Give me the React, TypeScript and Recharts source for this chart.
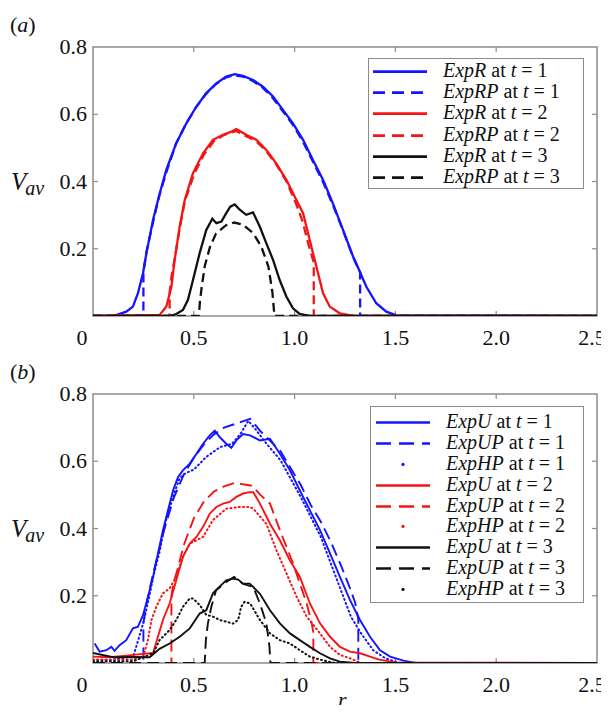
// ** React
import React from 'react';

// ** Chart library
import { LineChart, Line, XAxis, YAxis, ReferenceArea, ReferenceLine } from 'recharts';

// ---- (a) ExpR / ExpRP ----
const rR1 = [0, 0.1, 0.165, 0.198, 0.223, 0.248, 0.265, 0.298, 0.331, 0.364, 0.413, 0.463, 0.513, 0.562, 0.612, 0.661, 0.703, 0.744, 0.794, 0.843, 0.893, 0.942, 0.992, 1.042, 1.091, 1.141, 1.19, 1.24, 1.29, 1.32, 1.356, 1.405, 1.455, 1.505, 2.5];
const vR1 = [0, 0, 0.013, 0.028, 0.068, 0.127, 0.187, 0.286, 0.365, 0.435, 0.514, 0.573, 0.623, 0.663, 0.692, 0.712, 0.719, 0.714, 0.702, 0.682, 0.653, 0.613, 0.573, 0.524, 0.464, 0.405, 0.335, 0.256, 0.177, 0.137, 0.087, 0.038, 0.013, 0.002, 0];
const rRP1 = [0, 0.25, 0.25, 0.265, 0.3, 0.33, 0.365, 0.41, 0.46, 0.51, 0.56, 0.61, 0.66, 0.7, 0.745, 0.79, 0.84, 0.89, 0.94, 0.99, 1.04, 1.09, 1.14, 1.19, 1.24, 1.29, 1.325, 1.325, 2.5];
const vRP1 = [0, 0, 0.13, 0.19, 0.285, 0.36, 0.43, 0.51, 0.57, 0.62, 0.66, 0.69, 0.71, 0.716, 0.712, 0.7, 0.68, 0.65, 0.61, 0.57, 0.52, 0.46, 0.4, 0.33, 0.255, 0.175, 0.13, 0, 0];
const rR2 = [0, 0.331, 0.364, 0.389, 0.405, 0.43, 0.455, 0.496, 0.546, 0.595, 0.645, 0.678, 0.711, 0.76, 0.81, 0.86, 0.909, 0.959, 1.009, 1.042, 1.075, 1.108, 1.141, 1.174, 1.224, 1.29, 2.5];
const vR2 = [0, 0.003, 0.028, 0.087, 0.167, 0.266, 0.345, 0.425, 0.484, 0.524, 0.539, 0.546, 0.556, 0.539, 0.524, 0.494, 0.454, 0.405, 0.345, 0.306, 0.226, 0.147, 0.068, 0.028, 0.008, 0, 0];
const rRP2 = [0, 0.38, 0.38, 0.39, 0.405, 0.43, 0.455, 0.5, 0.55, 0.6, 0.645, 0.68, 0.71, 0.76, 0.81, 0.86, 0.91, 0.96, 1.01, 1.04, 1.07, 1.095, 1.095, 2.5];
const vRP2 = [0, 0, 0.07, 0.12, 0.17, 0.26, 0.34, 0.42, 0.48, 0.52, 0.537, 0.545, 0.55, 0.535, 0.52, 0.49, 0.45, 0.4, 0.33, 0.28, 0.21, 0.16, 0, 0];
const rR3 = [0, 0.38, 0.413, 0.446, 0.471, 0.496, 0.529, 0.562, 0.592, 0.612, 0.637, 0.661, 0.681, 0.703, 0.728, 0.76, 0.794, 0.827, 0.86, 0.893, 0.926, 0.959, 0.992, 1.025, 1.075, 2.5];
const vR3 = [0, 0, 0.006, 0.018, 0.048, 0.107, 0.187, 0.256, 0.289, 0.276, 0.281, 0.306, 0.325, 0.332, 0.316, 0.301, 0.308, 0.266, 0.216, 0.167, 0.107, 0.058, 0.023, 0.006, 0, 0];
const rRP3 = [0, 0.525, 0.53, 0.54, 0.555, 0.58, 0.61, 0.66, 0.7, 0.745, 0.795, 0.835, 0.87, 0.89, 0.9, 2.5];
const vRP3 = [0, 0, 0.04, 0.09, 0.15, 0.205, 0.245, 0.27, 0.278, 0.271, 0.246, 0.206, 0.147, 0.07, 0, 0];

// ---- (b) ExpU / ExpUP / ExpHP ----
const rU1 = [0.008, 0.033, 0.066, 0.091, 0.107, 0.132, 0.165, 0.198, 0.223, 0.248, 0.273, 0.298, 0.322, 0.347, 0.372, 0.397, 0.422, 0.446, 0.48, 0.513, 0.546, 0.579, 0.604, 0.628, 0.661, 0.686, 0.711, 0.744, 0.779, 0.828, 0.878, 0.927, 0.977, 1.026, 1.076, 1.126, 1.176, 1.225, 1.275, 1.325, 1.374, 1.424, 1.474, 1.54, 1.6, 2.5];
const vU1 = [0.058, 0.034, 0.038, 0.048, 0.036, 0.053, 0.068, 0.103, 0.108, 0.142, 0.197, 0.256, 0.325, 0.395, 0.454, 0.513, 0.553, 0.573, 0.593, 0.622, 0.652, 0.677, 0.691, 0.672, 0.652, 0.64, 0.662, 0.681, 0.677, 0.662, 0.667, 0.622, 0.573, 0.513, 0.454, 0.395, 0.325, 0.256, 0.187, 0.127, 0.078, 0.038, 0.019, 0.007, 0, 0];
const rUP1 = [0, 0.25, 0.25, 0.27, 0.3, 0.35, 0.4, 0.45, 0.5, 0.55, 0.6, 0.65, 0.7, 0.75, 0.78, 0.83, 0.88, 0.93, 0.98, 1.03, 1.08, 1.13, 1.18, 1.23, 1.27, 1.3, 1.316, 1.316, 2.5];
const vUP1 = [0, 0, 0.12, 0.19, 0.27, 0.39, 0.49, 0.56, 0.61, 0.65, 0.68, 0.7, 0.71, 0.72, 0.726, 0.69, 0.66, 0.63, 0.58, 0.53, 0.47, 0.42, 0.36, 0.29, 0.23, 0.18, 0.13, 0, 0];
const rHP1 = [0, 0.1, 0.2, 0.22, 0.25, 0.28, 0.3, 0.33, 0.36, 0.4, 0.43, 0.46, 0.5, 0.56, 0.63, 0.69, 0.73, 0.77, 0.8, 0.85, 0.93, 1.03, 1.13, 1.23, 1.28, 1.33, 1.39, 1.45, 1.52, 2.5];
const vHP1 = [0.01, 0.01, 0.02, 0.06, 0.12, 0.2, 0.26, 0.33, 0.42, 0.5, 0.55, 0.565, 0.575, 0.612, 0.642, 0.652, 0.68, 0.72, 0.7, 0.66, 0.603, 0.494, 0.375, 0.216, 0.137, 0.088, 0.038, 0.014, 0, 0];
const rU2 = [0, 0.08, 0.165, 0.248, 0.298, 0.322, 0.347, 0.38, 0.413, 0.446, 0.48, 0.513, 0.546, 0.579, 0.612, 0.645, 0.678, 0.711, 0.744, 0.777, 0.795, 0.828, 0.878, 0.927, 0.977, 1.026, 1.076, 1.126, 1.176, 1.225, 1.275, 1.325, 1.374, 1.42, 1.5, 2.5];
const vU2 = [0.019, 0.017, 0.022, 0.027, 0.03, 0.078, 0.128, 0.177, 0.246, 0.316, 0.355, 0.375, 0.405, 0.444, 0.464, 0.474, 0.479, 0.494, 0.504, 0.508, 0.508, 0.474, 0.414, 0.365, 0.305, 0.256, 0.177, 0.118, 0.078, 0.048, 0.034, 0.029, 0.019, 0.01, 0.002, 0];
const rUP2 = [0, 0.389, 0.389, 0.4, 0.42, 0.45, 0.5, 0.55, 0.6, 0.65, 0.7, 0.76, 0.79, 0.83, 0.878, 0.927, 0.993, 1.06, 1.085, 1.093, 1.093, 2.5];
const vUP2 = [0, 0, 0.2, 0.24, 0.28, 0.35, 0.43, 0.48, 0.51, 0.525, 0.535, 0.53, 0.527, 0.5, 0.474, 0.395, 0.295, 0.177, 0.118, 0.09, 0, 0];
const rHP2 = [0, 0.2, 0.25, 0.273, 0.29, 0.314, 0.347, 0.38, 0.413, 0.446, 0.48, 0.546, 0.595, 0.661, 0.728, 0.777, 0.795, 0.86, 0.91, 0.96, 1.01, 1.06, 1.126, 1.176, 1.225, 1.275, 1.33, 2.5];
const vHP2 = [0.01, 0.01, 0.02, 0.07, 0.128, 0.167, 0.207, 0.222, 0.256, 0.316, 0.355, 0.375, 0.425, 0.459, 0.464, 0.464, 0.459, 0.414, 0.335, 0.266, 0.197, 0.138, 0.088, 0.048, 0.024, 0.014, 0, 0];
const rU3 = [0, 0.1, 0.2, 0.281, 0.33, 0.38, 0.43, 0.48, 0.529, 0.562, 0.595, 0.628, 0.661, 0.694, 0.72, 0.744, 0.777, 0.795, 0.828, 0.878, 0.927, 0.977, 1.026, 1.076, 1.126, 1.176, 1.225, 1.3, 2.5];
const vU3 = [0.03, 0.017, 0.018, 0.017, 0.042, 0.058, 0.078, 0.103, 0.147, 0.157, 0.207, 0.227, 0.246, 0.251, 0.248, 0.236, 0.236, 0.226, 0.206, 0.157, 0.118, 0.088, 0.068, 0.048, 0.029, 0.014, 0.004, 0, 0];
const rUP3 = [0, 0.554, 0.56, 0.57, 0.587, 0.61, 0.661, 0.7, 0.745, 0.795, 0.828, 0.86, 0.875, 0.88, 2.5];
const vUP3 = [0, 0, 0.069, 0.118, 0.167, 0.216, 0.241, 0.256, 0.235, 0.226, 0.177, 0.118, 0.05, 0, 0];
const rHP3 = [0, 0.2, 0.3, 0.33, 0.38, 0.413, 0.446, 0.48, 0.496, 0.53, 0.562, 0.595, 0.628, 0.661, 0.694, 0.72, 0.735, 0.752, 0.78, 0.828, 0.878, 0.927, 0.977, 1.026, 1.076, 1.126, 1.2, 2.5];
const vHP3 = [0.005, 0.005, 0.03, 0.068, 0.098, 0.128, 0.167, 0.192, 0.192, 0.172, 0.143, 0.138, 0.128, 0.123, 0.117, 0.128, 0.167, 0.182, 0.177, 0.128, 0.088, 0.068, 0.058, 0.038, 0.019, 0.01, 0, 0];

const xTicks = [0, 0.5, 1, 1.5, 2, 2.5];
const yTicks = [0, 0.2, 0.4, 0.6, 0.8];

const BLUE = '#1414ff';
const RED = '#f51414';
const BLACK = '#111';
const FRAME = '#8c8c8c';
const SERIF = "'Liberation Serif', 'DejaVu Serif', Tinos, 'Times New Roman', Times, serif";

type Style = 'solid' | 'dash' | 'dot';
type Series = { name: string; t: number; color: string; style: Style; r: number[]; v: number[] };

const pts = (r: number[], v: number[]) => r.map((x, i) => ({ r: x, v: v[i] }));

const seriesA: Series[] = [
  { name: 'ExpR', t: 1, color: BLUE, style: 'solid', r: rR1, v: vR1 },
  { name: 'ExpRP', t: 1, color: BLUE, style: 'dash', r: rRP1, v: vRP1 },
  { name: 'ExpR', t: 2, color: RED, style: 'solid', r: rR2, v: vR2 },
  { name: 'ExpRP', t: 2, color: RED, style: 'dash', r: rRP2, v: vRP2 },
  { name: 'ExpR', t: 3, color: BLACK, style: 'solid', r: rR3, v: vR3 },
  { name: 'ExpRP', t: 3, color: BLACK, style: 'dash', r: rRP3, v: vRP3 },
];

const seriesB: Series[] = [
  { name: 'ExpU', t: 1, color: BLUE, style: 'solid', r: rU1, v: vU1 },
  { name: 'ExpUP', t: 1, color: BLUE, style: 'dash', r: rUP1, v: vUP1 },
  { name: 'ExpHP', t: 1, color: BLUE, style: 'dot', r: rHP1, v: vHP1 },
  { name: 'ExpU', t: 2, color: RED, style: 'solid', r: rU2, v: vU2 },
  { name: 'ExpUP', t: 2, color: RED, style: 'dash', r: rUP2, v: vUP2 },
  { name: 'ExpHP', t: 2, color: RED, style: 'dot', r: rHP2, v: vHP2 },
  { name: 'ExpU', t: 3, color: BLACK, style: 'solid', r: rU3, v: vU3 },
  { name: 'ExpUP', t: 3, color: BLACK, style: 'dash', r: rUP3, v: vUP3 },
  { name: 'ExpHP', t: 3, color: BLACK, style: 'dot', r: rHP3, v: vHP3 },
];

const XTick = (props: any) => {
  const { x, y, payload } = props;
  const val = payload.value as number;
  const label = val === 0 ? '0' : val.toFixed(1);
  // the "0" label sits left of the axis corner, "2.5" is pulled in at the right edge
  const dx = val === 0 ? -11 : val === 2.5 ? -5 : 0;
  return (
    <text x={x + dx} y={y + 29} textAnchor="middle" fontFamily={SERIF} fontSize={22} fill="#111">
      {label}
    </text>
  );
};

const YTick = (props: any) => {
  const { x, y, payload } = props;
  const val = payload.value as number;
  if (val === 0) return <g />;
  return (
    <text x={x - 6} y={y + 7} textAnchor="end" fontFamily={SERIF} fontSize={22} fill="#111">
      {val.toFixed(1)}
    </text>
  );
};

type LegendCfg = { left: number; top: number; width: number; height: number; padTop: number; rowH: number; sampleX: number; textX: number };

const LegendBox: React.FC<{ series: Series[]; cfg: LegendCfg; dash: string }> = ({ series, cfg, dash }) => (
  <div
    style={{
      position: 'absolute',
      left: cfg.left,
      top: cfg.top,
      width: cfg.width,
      height: cfg.height,
      boxSizing: 'border-box',
      border: `1.5px solid ${FRAME}`,
      background: '#fff',
      paddingTop: cfg.padTop,
      fontFamily: SERIF,
      fontSize: 20,
      color: '#111',
    }}
  >
    {series.map((s, i) => (
      <div key={i} style={{ position: 'relative', height: cfg.rowH, lineHeight: `${cfg.rowH}px`, whiteSpace: 'nowrap' }}>
        <svg width={54} height={cfg.rowH} style={{ position: 'absolute', left: cfg.sampleX, top: 0 }}>
          {s.style === 'dot' ? (
            <circle cx={27} cy={cfg.rowH / 2 + 1} r={1.6} fill={s.color} />
          ) : (
            <line
              x1={0}
              x2={54}
              y1={cfg.rowH / 2 + 1}
              y2={cfg.rowH / 2 + 1}
              stroke={s.color}
              strokeWidth={2.6}
              strokeDasharray={s.style === 'dash' ? dash : undefined}
            />
          )}
        </svg>
        <span style={{ position: 'absolute', left: cfg.textX, top: 0 }}>
          <i>{s.name}</i> at <i>t</i> = {s.t}
        </span>
      </div>
    ))}
  </div>
);

type PanelProps = {
  top: number;
  height: number;
  marginTop: number;
  xAxisHeight: number;
  series: Series[];
  lineWidth: number;
  dash: string;
  letter: string;
  legend: LegendCfg;
  legendDash: string;
};

const Panel: React.FC<PanelProps> = ({ top, height, marginTop, xAxisHeight, series, lineWidth, dash, letter, legend, legendDash }) => {
  const plotH = height - marginTop - xAxisHeight;
  const y04 = marginTop + plotH * 0.5;
  const tx = 0.025;
  const ty = 0.015;
  return (
    <div style={{ position: 'absolute', left: 0, top, width: 609, height }}>
      <LineChart width={609} height={height} margin={{ top: marginTop, right: 12, left: 0, bottom: 0 }}>
        <XAxis
          dataKey="r"
          type="number"
          domain={[0, 2.5]}
          ticks={xTicks}
          allowDataOverflow
          height={xAxisHeight}
          tickSize={0}
          tickMargin={0}
          tickLine={false}
          axisLine={false}
          tick={<XTick />}
          interval={0}
        />
        <YAxis
          dataKey="v"
          type="number"
          domain={[0, 0.8]}
          ticks={yTicks}
          allowDataOverflow
          width={93}
          tickSize={0}
          tickMargin={0}
          tickLine={false}
          axisLine={false}
          tick={<YTick />}
          interval={0}
        />
        <ReferenceArea x1={0} x2={2.5} y1={0} y2={0.8} fill="#fff" fillOpacity={0} stroke={FRAME} strokeWidth={1.5} ifOverflow="visible" />
        {xTicks.slice(1, -1).map((t) => (
          <ReferenceLine key={`xb${t}`} segment={[{ x: t, y: 0 }, { x: t, y: ty }]} stroke={FRAME} strokeWidth={1.2} />
        ))}
        {xTicks.slice(1, -1).map((t) => (
          <ReferenceLine key={`xt${t}`} segment={[{ x: t, y: 0.8 }, { x: t, y: 0.8 - ty }]} stroke={FRAME} strokeWidth={1.2} />
        ))}
        {yTicks.slice(1, -1).map((t) => (
          <ReferenceLine key={`yl${t}`} segment={[{ x: 0, y: t }, { x: tx, y: t }]} stroke={FRAME} strokeWidth={1.2} />
        ))}
        {yTicks.slice(1, -1).map((t) => (
          <ReferenceLine key={`yr${t}`} segment={[{ x: 2.5, y: t }, { x: 2.5 - tx, y: t }]} stroke={FRAME} strokeWidth={1.2} />
        ))}
        {series.map((s, i) => (
          <Line
            key={i}
            data={pts(s.r, s.v)}
            dataKey="v"
            type="linear"
            stroke={s.color}
            strokeWidth={s.style === 'dot' ? 2 : lineWidth}
            strokeDasharray={s.style === 'dash' ? dash : s.style === 'dot' ? '1 3.2' : undefined}
            strokeLinecap={s.style === 'dot' ? 'round' : 'butt'}
            dot={false}
            activeDot={false}
            isAnimationActive={false}
          />
        ))}
        <text x={10} y={marginTop - 15} fontFamily={SERIF} fontSize={22} fill="#111">
          (<tspan fontStyle="italic">{letter}</tspan>)
        </text>
        <text x={11} y={y04 + 8} fontFamily={SERIF} fontSize={25} fontStyle="italic" fill="#111">
          V
          <tspan fontSize={20} dy={5} dx={-1}>
            av
          </tspan>
        </text>
      </LineChart>
      <LegendBox series={series} cfg={{ ...legend, top: legend.top - top }} dash={legendDash} />
    </div>
  );
};

const App: React.FC = () => (
  <div style={{ position: 'relative', width: 609, height: 713, margin: -8, overflow: 'hidden', background: '#fff' }}>
    <Panel
      top={0}
      height={362}
      marginTop={47}
      xAxisHeight={46}
      series={seriesA}
      lineWidth={2.3}
      dash="9 5"
      letter="a"
      legend={{ left: 368, top: 58, width: 216, height: 131, padTop: 1, rowH: 21.2, sampleX: 4, textX: 74 }}
      legendDash="12 7"
    />
    <Panel
      top={346}
      height={367}
      marginTop={48}
      xAxisHeight={50}
      series={seriesB}
      lineWidth={1.9}
      dash="12 6"
      letter="b"
      legend={{ left: 370, top: 406, width: 214, height: 197, padTop: 4, rowH: 20.9, sampleX: 5, textX: 75 }}
      legendDash="15 8"
    />
    <div
      style={{
        position: 'absolute',
        left: 338,
        top: 689,
        height: 24,
        lineHeight: '22px',
        fontFamily: SERIF,
        fontSize: 22,
        fontStyle: 'italic',
        color: '#111',
      }}
    >
      r
    </div>
  </div>
);

export default App;
